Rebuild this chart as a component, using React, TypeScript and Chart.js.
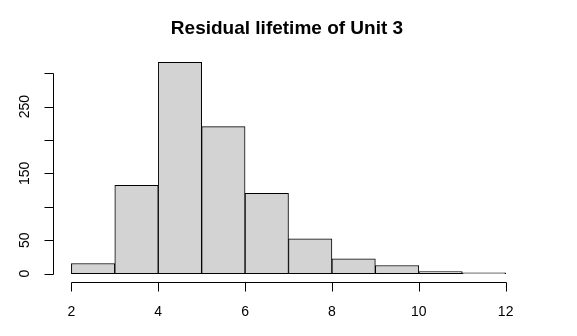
import React, { useEffect, useRef } from "react";
import { Chart, registerables } from "chart.js";

Chart.register(...registerables);

const TITLE = "Residual lifetime of Unit 3";
const binStarts = [2, 3, 4, 5, 6, 7, 8, 9, 10, 11];
const binWidth = 1;
const counts = [15, 132, 316, 220, 120, 52, 22, 12, 3, 1];
const xTicks = [2, 4, 6, 8, 10, 12];
const xTickLabels = ["2", "4", "6", "8", "10", "12"];
const yTicks = [0, 50, 100, 150, 200, 250, 300];
const yTickLabels = ["0", "50", "", "150", "", "250", ""];

const FONT = "'Liberation Sans', Arial, Helvetica, sans-serif";

const rAxesPlugin = {
  id: "rAxes",
  afterDraw(chart: any) {
    const ctx = chart.ctx as CanvasRenderingContext2D;
    const xs = chart.scales.x;
    const ys = chart.scales.y;
    const a = chart.chartArea;
    ctx.save();
    ctx.strokeStyle = "#000";
    ctx.fillStyle = "#000";
    ctx.lineWidth = 1;
    const tickLen = 9;

    // x axis
    const yAx = Math.round(a.bottom) + 0.5;
    const xp = (v: number) => Math.round(xs.getPixelForValue(v)) + 0.5;
    ctx.beginPath();
    ctx.moveTo(xp(xTicks[0]), yAx);
    ctx.lineTo(xp(xTicks[xTicks.length - 1]), yAx);
    xTicks.forEach((t) => {
      ctx.moveTo(xp(t), yAx);
      ctx.lineTo(xp(t), yAx + tickLen);
    });
    ctx.stroke();
    ctx.font = `14px ${FONT}`;
    ctx.textAlign = "center";
    ctx.textBaseline = "middle";
    xTicks.forEach((t, i) => {
      ctx.fillText(xTickLabels[i], xs.getPixelForValue(t), yAx + 29.5);
    });

    // y axis
    const xAx = Math.round(a.left) - 0.5;
    const yp = (v: number) => Math.round(ys.getPixelForValue(v)) + 0.5;
    ctx.beginPath();
    ctx.moveTo(xAx, yp(yTicks[0]));
    ctx.lineTo(xAx, yp(yTicks[yTicks.length - 1]));
    yTicks.forEach((t) => {
      ctx.moveTo(xAx, yp(t));
      ctx.lineTo(xAx - tickLen, yp(t));
    });
    ctx.stroke();
    yTicks.forEach((t, i) => {
      const lab = yTickLabels[i];
      if (!lab) return;
      ctx.save();
      ctx.translate(xAx - 28, ys.getPixelForValue(t));
      ctx.rotate(-Math.PI / 2);
      ctx.fillText(lab, 0, 0);
      ctx.restore();
    });

    // title
    ctx.font = `bold 19px ${FONT}`;
    ctx.fillText(TITLE, (a.left + a.right) / 2 - 1.5, 29);
    ctx.restore();
  },
};

export default function App() {
  const ref = useRef<HTMLCanvasElement | null>(null);
  useEffect(() => {
    if (!ref.current) return;
    const lo = binStarts[0];
    const hi = binStarts[binStarts.length - 1] + binWidth;
    const maxC = Math.max(...counts);
    const xExt = (hi - lo) * 0.04;
    const yExt = maxC * 0.04;
    const chart = new Chart(ref.current, {
      type: "bar",
      data: {
        datasets: [
          {
            data: binStarts.map((s, i) => ({ x: s + binWidth / 2, y: counts[i] })),
            backgroundColor: "#D3D3D3",
            borderColor: "#000000",
            borderWidth: 1,
            borderSkipped: false,
            barPercentage: 1,
            categoryPercentage: 1,
          } as any,
        ],
      },
      options: {
        animation: false,
        responsive: false,
        devicePixelRatio: 1,
        layout: { padding: { left: 54, right: 54, top: 54, bottom: 54 } },
        plugins: { legend: { display: false }, tooltip: { enabled: false }, title: { display: false } },
        scales: {
          x: { type: "linear", min: lo - xExt, max: hi + xExt, display: false, offset: false },
          y: { type: "linear", min: -yExt, max: maxC + yExt, display: false },
        },
      },
      plugins: [rAxesPlugin],
    });
    return () => chart.destroy();
  }, []);
  return (
    <div style={{ position: "fixed", left: 0, top: 0, width: 577, height: 336, background: "#fff" }}>
      <canvas ref={ref} width={577} height={336} />
    </div>
  );
}
